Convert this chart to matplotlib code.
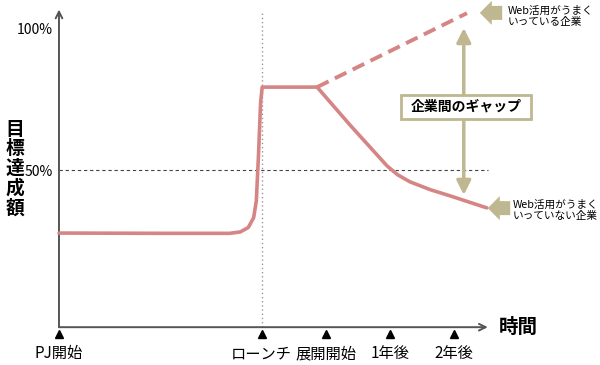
import numpy as np
import matplotlib
matplotlib.use("Agg")
from matplotlib import pyplot as plt
from matplotlib.patches import FancyArrow, Rectangle

plt.rcParams["font.family"] = ["Noto Sans CJK JP", "DejaVu Sans"]

# time axis in months from project start
tick_months = [0, 38, 50, 62, 74]
tick_labels = ["PJ開始", "ローンチ", "展開開始", "1年後", "2年後"]

# common path up to the plateau (% of target)
base_x = [0, 20, 32, 34, 35.5, 36.5, 37.0, 37.4, 37.8, 38.1, 48.4]
base_y = [27.5, 27.4, 27.4, 27.9, 29.5, 33.0, 39.0, 55.0, 74.0, 79.6, 79.6]

# companies not using the web well
low_x = [48.4, 54.6, 61.5, 63.5, 65.8, 69.6, 73.3, 80.2]
low_y = [79.6, 66.0, 51.5, 48.3, 45.8, 43.0, 40.8, 36.5]

# companies using the web well (dashed)
high_x = [48.4, 50.3, 76.5]
high_y = [79.6, 81.4, 106.0]

line_color = "#d68585"
khaki = "#bfb78f"
axis_color = "#555555"

fig = plt.figure(figsize=(6.0, 3.65), dpi=100)
ax = fig.add_axes([0, 0, 1, 1])
ax.set_xlim(-11.06, 101.44)
ax.set_ylim(-19.6, 110.7)
ax.axis("off")

x_axis_y = -6.1

# axes with open arrow heads
ax.annotate("", xy=(0, 107.3), xytext=(0, x_axis_y),
            arrowprops=dict(arrowstyle="->", color=axis_color, lw=1.4,
                            shrinkA=0, shrinkB=0, mutation_scale=12))
ax.annotate("", xy=(80.4, x_axis_y), xytext=(0, x_axis_y),
            arrowprops=dict(arrowstyle="->", color=axis_color, lw=1.4,
                            shrinkA=0, shrinkB=0, mutation_scale=12))

# reference lines
ax.plot([0, 80.4], [50, 50], color="#444444", lw=0.8, ls=(0, (3, 2.5)))
ax.plot([38, 38], [x_axis_y, 106.4], color="#999999", lw=1.0, ls=(0, (1, 2)))

# curves
ax.plot(base_x, base_y, color=line_color, lw=2.6, solid_capstyle="round",
        solid_joinstyle="round", zorder=3)
ax.plot(low_x, low_y, color=line_color, lw=2.6, solid_capstyle="round",
        solid_joinstyle="round", zorder=3)
ax.plot(high_x, high_y, color=line_color, lw=2.8, dashes=(3.3, 1.8), zorder=3)

# y tick labels
ax.text(-1.1, 100, "100%", ha="right", va="center", fontsize=10)
ax.text(-1.1, 49.3, "50%", ha="right", va="center", fontsize=10)

# time ticks
ax.plot(tick_months, [-8.6] * len(tick_months), ls="none", marker="^",
        markersize=6, color="black", clip_on=False)
for m, lab in zip(tick_months, tick_labels):
    ax.text(m, -15.6, lab, ha="center", va="center", fontsize=11)

# axis titles
ax.text(-8.3, 50.5, "\n".join("目標達成額"), ha="center", va="center",
        fontsize=13.5, fontweight="bold", linespacing=1.05)
ax.text(82.4, x_axis_y, "時間", ha="left", va="center", fontsize=14,
        fontweight="bold")

# gap arrow and box
ax.annotate("", xy=(75.9, 100.7), xytext=(75.9, 41.1),
            arrowprops=dict(arrowstyle="<|-|>,head_length=0.7,head_width=0.35",
                            color=khaki, lw=2.5, shrinkA=0, shrinkB=0,
                            mutation_scale=12), zorder=2)
ax.add_patch(Rectangle((64.1, 68.2), 24.4, 8.6, facecolor="white",
                       edgecolor=khaki, lw=2.0, zorder=4))
ax.text(76.3, 72.5, "企業間のギャップ", ha="center", va="center",
        fontsize=10, fontweight="bold", zorder=5)

# callout arrows
ax.add_patch(FancyArrow(83.1, 106.1, -4.2, 0, width=5.0, head_width=8.6,
                        head_length=2.25, length_includes_head=True,
                        color=khaki, lw=0))
ax.add_patch(FancyArrow(84.6, 36.4, -4.2, 0, width=5.0, head_width=8.6,
                        head_length=2.25, length_includes_head=True,
                        color=khaki, lw=0))
ax.text(84.2, 104.8, "Web活用がうまく\nいっている企業", ha="left", va="center",
        fontsize=7.7, linespacing=1.1)
ax.text(85.1, 35.7, "Web活用がうまく\nいっていない企業", ha="left", va="center",
        fontsize=7.7, linespacing=1.1)

plt.savefig("out.png", dpi=100)
